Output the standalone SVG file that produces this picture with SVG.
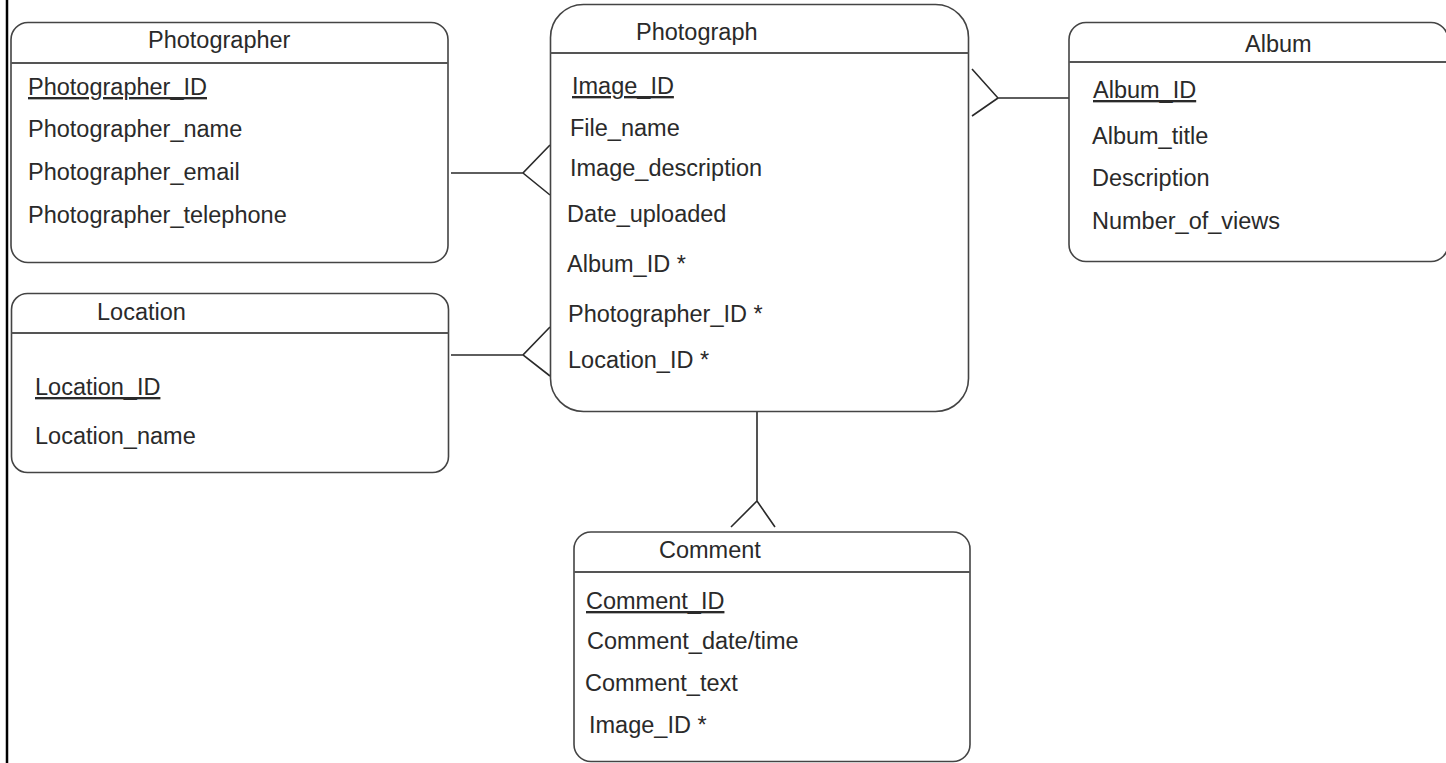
<svg xmlns="http://www.w3.org/2000/svg" width="1446" height="763" viewBox="0 0 1446 763">
<style>
.box{fill:#fff;stroke:#444;stroke-width:1.6}
.hdr{stroke:#555;stroke-width:2}
.t{font-family:"Liberation Sans",Arial,sans-serif;font-size:23.5px;fill:#2a2a2a}
.u{text-decoration:underline}
.c{fill:none;stroke:#2a2a2a;stroke-width:1.6}
</style>
<rect x="0" y="0" width="1446" height="763" fill="#fff"/>
<line x1="7" y1="0" x2="7" y2="763" stroke="#000" stroke-width="2.5"/>

<g id="connectors">
  <path class="c" d="M451 173H523M550 145L523 173L550 195"/>
  <path class="c" d="M451 355H523M550 327L523 355L550 376"/>
  <path class="c" d="M1069 98H998M972 69L998 98L972 116"/>
  <path class="c" d="M757 412V501M731 527L757 501L775 527"/>
</g>

<g id="photographer">
  <rect class="box" x="11" y="22.5" width="437" height="240" rx="17"/>
  <line class="hdr" x1="11" y1="63" x2="448" y2="63"/>
  <text class="t" x="148" y="48">Photographer</text>
  <text class="t u" x="28" y="95">Photographer_ID</text>
  <text class="t" x="28" y="137">Photographer_name</text>
  <text class="t" x="28" y="180">Photographer_email</text>
  <text class="t" x="28" y="223">Photographer_telephone</text>
</g>

<g id="photograph">
  <rect class="box" x="550.5" y="4.5" width="418" height="407" rx="33"/>
  <line class="hdr" x1="550.5" y1="53" x2="968.5" y2="53"/>
  <text class="t" x="636" y="40">Photograph</text>
  <text class="t u" x="572" y="94">Image_ID</text>
  <text class="t" x="570" y="136">File_name</text>
  <text class="t" x="570" y="176">Image_description</text>
  <text class="t" x="567" y="222">Date_uploaded</text>
  <text class="t" x="567" y="272">Album_ID *</text>
  <text class="t" x="568" y="322">Photographer_ID *</text>
  <text class="t" x="568" y="368">Location_ID *</text>
</g>

<g id="album">
  <rect class="box" x="1069" y="22.5" width="379" height="239" rx="17"/>
  <line class="hdr" x1="1069" y1="62" x2="1448" y2="62"/>
  <text class="t" x="1245" y="52">Album</text>
  <text class="t u" x="1093" y="98">Album_ID</text>
  <text class="t" x="1092" y="144">Album_title</text>
  <text class="t" x="1092" y="186">Description</text>
  <text class="t" x="1092" y="229">Number_of_views</text>
</g>

<g id="location">
  <rect class="box" x="11.5" y="293.5" width="437" height="179" rx="16"/>
  <line class="hdr" x1="11.5" y1="333" x2="448.5" y2="333"/>
  <text class="t" x="97" y="320">Location</text>
  <text class="t u" x="35" y="395">Location_ID</text>
  <text class="t" x="35" y="444">Location_name</text>
</g>

<g id="comment">
  <rect class="box" x="574" y="532" width="396" height="229.5" rx="17"/>
  <line class="hdr" x1="574" y1="572" x2="970" y2="572"/>
  <text class="t" x="659" y="558">Comment</text>
  <text class="t u" x="586" y="609">Comment_ID</text>
  <text class="t" x="587" y="649">Comment_date/time</text>
  <text class="t" x="585" y="691">Comment_text</text>
  <text class="t" x="589" y="733">Image_ID *</text>
</g>
</svg>
